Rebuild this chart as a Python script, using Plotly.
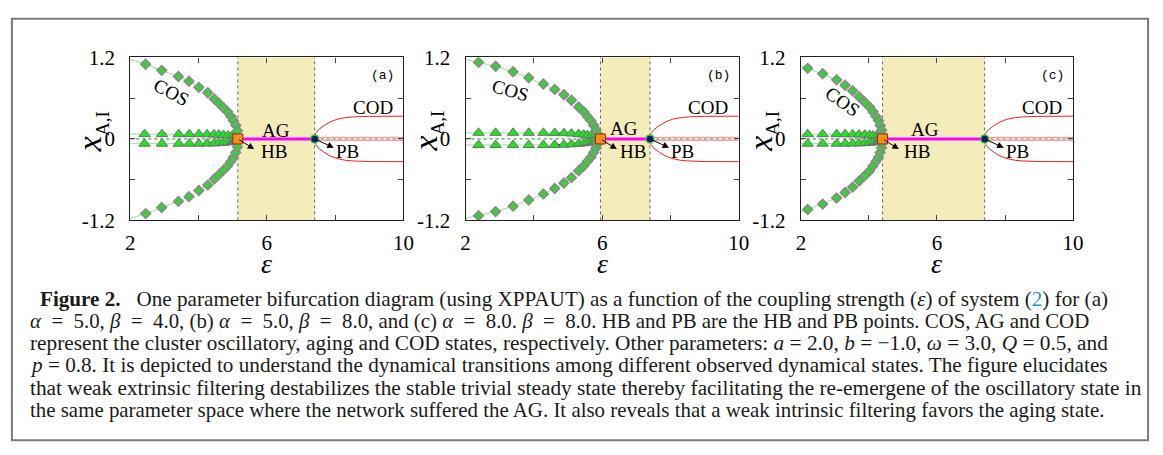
import plotly.graph_objects as go

W, H = 1163, 455

# ---------------- data ----------------
eps_start = 2.0
pb_eps = 7.4

# panel (a)
hb_a = 5.15
cos_start_a = 1.17
cos_eps_a = [2.45, 2.92, 3.41, 3.72, 4.01, 4.27, 4.46, 4.59, 4.73, 4.85, 4.95, 5.02, 5.09, 5.14]
cos_amp_a = [1.10, 1.01, 0.92, 0.85, 0.76, 0.68, 0.59, 0.53, 0.46, 0.40, 0.33, 0.27, 0.20, 0.12]
tri_eps_a = [2.42, 2.93, 3.42, 3.73, 4.01, 4.25, 4.45, 4.59, 4.73, 4.86, 4.97, 5.03, 5.07, 5.11]
tri_amp_a = [0.07, 0.07, 0.07, 0.07, 0.07, 0.068, 0.066, 0.062, 0.057, 0.05, 0.042, 0.035, 0.026, 0.016]
tri_line_a = 0.07

# panel (b)
hb_b = 5.95
cos_start_b = 1.17
cos_eps_b = [2.38, 2.88, 3.39, 3.85, 4.28, 4.61, 4.88, 5.10, 5.31, 5.46, 5.57, 5.67, 5.75, 5.82, 5.88]
cos_amp_b = [1.13, 1.07, 0.99, 0.90, 0.81, 0.73, 0.65, 0.57, 0.47, 0.40, 0.33, 0.27, 0.20, 0.135, 0.065]
tri_eps_b = [2.38, 2.88, 3.39, 3.85, 4.28, 4.61, 4.88, 5.10, 5.31, 5.46, 5.57, 5.67, 5.75, 5.82, 5.88]
tri_amp_b = [0.09, 0.09, 0.09, 0.09, 0.09, 0.088, 0.085, 0.08, 0.072, 0.064, 0.055, 0.045, 0.035, 0.024, 0.013]
tri_line_b = 0.09

# panel (c)
hb_c = 4.40
cos_start_c = 1.08
cos_eps_c = [2.20, 2.64, 3.05, 3.30, 3.52, 3.71, 3.88, 4.02, 4.12, 4.21, 4.28, 4.33, 4.37, 4.39]
cos_amp_c = [1.04, 0.96, 0.87, 0.79, 0.71, 0.62, 0.54, 0.47, 0.40, 0.33, 0.27, 0.20, 0.13, 0.06]
tri_eps_c = [2.20, 2.64, 3.05, 3.30, 3.52, 3.71, 3.88, 4.02, 4.12, 4.21, 4.28, 4.33, 4.37]
tri_amp_c = [0.07, 0.07, 0.07, 0.07, 0.068, 0.066, 0.062, 0.057, 0.05, 0.042, 0.033, 0.024, 0.014]
tri_line_c = 0.07

# COD branch (same in all panels)
cod_eps = [7.40, 7.43, 7.50, 7.58, 7.67, 7.85, 8.06, 8.30, 8.54, 9.00, 9.50, 10.0]
cod_amp = [0.00, 0.08, 0.13, 0.165, 0.195, 0.25, 0.29, 0.315, 0.325, 0.333, 0.335, 0.335]
cod_inner = 0.02

# label positions (data coords) per panel
panel_letters = ["(a)", "(b)", "(c)"]
cos_lab = [(3.22, 0.69, 28), (3.33, 0.72, 16), (3.22, 0.55, 35)]
ag_lab = [(6.27, 0.13), (6.65, 0.15), (5.65, 0.14)]
hb_lab = [(6.22, -0.18), (6.91, -0.18), (5.42, -0.19)]
pb_lab = (8.36, -0.18)
cod_lab = (9.1, 0.47)
letter_pos = (9.4, 0.94)

x_tickvals = [2, 4, 6, 8, 10]
x_ticktext = ["2", "", "6", "", "10"]
y_tickvals = [-1.2, -0.6, 0, 0.6, 1.2]
y_ticktext = ["-1.2", "", "0", "", "1.2"]

EQ = "\u2002=\u2002"
caption_lines = [
    "<b>Figure 2.</b>\u2002 One parameter bifurcation diagram (using XPPAUT) as a function of the coupling strength (<i>ε</i>) of system (<span style='color:#2a8fd4'>2</span>) for (a)",
    "<i>α</i>" + EQ + "5.0, <i>β</i>" + EQ + "4.0, (b) <i>α</i>" + EQ + "5.0, <i>β</i>" + EQ
    + "8.0, and (c) <i>α</i>" + EQ + "8.0. <i>β</i>" + EQ + "8.0. HB and PB are the HB and PB points. COS, AG and COD",
    "represent the cluster oscillatory, aging and COD states, respectively. Other parameters: <i>a</i> = 2.0, <i>b</i> = −1.0, <i>ω</i> = 3.0, <i>Q</i> = 0.5, and",
    "<i>p</i> = 0.8. It is depicted to understand the dynamical transitions among different observed dynamical states. The figure elucidates",
    "that weak extrinsic filtering destabilizes the stable trivial steady state thereby facilitating the re-emergene of the oscillatory state in",
    "the same parameter space where the network suffered the AG. It also reveals that a weak intrinsic filtering favors the aging state.",
]
caption_x = [33, 23, 23, 23, 23, 23]
caption_size = [21.15, 20.85, 21.3, 21.2, 21.3, 20.9]
caption_baselines = [309.5, 333, 356.5, 380, 403.5, 427]

panels = [
    dict(hb=hb_a, cs=cos_start_a, ce=cos_eps_a, ca=cos_amp_a, te=tri_eps_a, ta=tri_amp_a, tl=tri_line_a),
    dict(hb=hb_b, cs=cos_start_b, ce=cos_eps_b, ca=cos_amp_b, te=tri_eps_b, ta=tri_amp_b, tl=tri_line_b),
    dict(hb=hb_c, cs=cos_start_c, ce=cos_eps_c, ca=cos_amp_c, te=tri_eps_c, ta=tri_amp_c, tl=tri_line_c),
]

# ---------------- layout geometry (pixels) ----------------
px_left = [127, 467, 807]
px_right = [404, 744, 1083]
px_top, px_bot = 48, 220

SERIF = "Liberation Serif"
fig = go.Figure()

LG = "#93e693"
for i, p in enumerate(panels):
    xa = "x" if i == 0 else f"x{i+1}"
    ya = "y" if i == 0 else f"y{i+1}"
    hb = p["hb"]
    for s in (1, -1):
        fig.add_trace(go.Scatter(x=[eps_start] + p["ce"] + [hb],
                                 y=[s * p["cs"]] + [s * v for v in p["ca"]] + [0],
                                 mode="lines", line=dict(color=LG, width=1),
                                 xaxis=xa, yaxis=ya, hoverinfo="skip", showlegend=False))
        fig.add_trace(go.Scatter(x=[eps_start, p["te"][5], hb], y=[s * p["tl"], s * p["ta"][5], 0],
                                 mode="lines", line=dict(color=LG, width=1),
                                 xaxis=xa, yaxis=ya, hoverinfo="skip", showlegend=False))
        fig.add_trace(go.Scatter(x=p["te"][5:] + [hb], y=[s * v for v in p["ta"][5:]] + [0],
                                 mode="lines", line=dict(color="#111111", width=1),
                                 xaxis=xa, yaxis=ya, hoverinfo="skip", showlegend=False))
    fig.add_trace(go.Scatter(x=[eps_start, hb], y=[0, 0], mode="lines",
                             line=dict(color="#2e7d2e", width=1, dash="dot"),
                             xaxis=xa, yaxis=ya, hoverinfo="skip", showlegend=False))
    for s in (1, -1):
        fig.add_trace(go.Scatter(x=p["te"], y=[s * v for v in p["ta"]], mode="markers",
                                 marker=dict(symbol="triangle-up", size=10, color="#1ee61e",
                                             line=dict(color="#6e6e6e", width=1)),
                                 xaxis=xa, yaxis=ya, hoverinfo="skip", showlegend=False))
    for s in (1, -1):
        fig.add_trace(go.Scatter(x=p["ce"], y=[s * v for v in p["ca"]], mode="markers",
                                 marker=dict(symbol="diamond", size=7.5, color="#3ccc3c",
                                             line=dict(color="#8a8a8a", width=1.5)),
                                 xaxis=xa, yaxis=ya, hoverinfo="skip", showlegend=False))
    fig.add_trace(go.Scatter(x=[hb, pb_eps], y=[0, 0], mode="lines",
                             line=dict(color="#ff00ff", width=3),
                             xaxis=xa, yaxis=ya, hoverinfo="skip", showlegend=False))
    for s in (1, -1):
        fig.add_trace(go.Scatter(x=cod_eps, y=[s * v for v in cod_amp], mode="lines",
                                 line=dict(color="#ee2222", width=1),
                                 xaxis=xa, yaxis=ya, hoverinfo="skip", showlegend=False))
        fig.add_trace(go.Scatter(x=[pb_eps, 10], y=[s * cod_inner, s * cod_inner], mode="lines",
                                 line=dict(color="#f4a3a3", width=1.5),
                                 xaxis=xa, yaxis=ya, hoverinfo="skip", showlegend=False))
    fig.add_trace(go.Scatter(x=[pb_eps, 10], y=[0, 0], mode="lines",
                             line=dict(color="#888888", width=1, dash="dot"),
                             xaxis=xa, yaxis=ya, hoverinfo="skip", showlegend=False))
    fig.add_trace(go.Scatter(x=[hb], y=[0], mode="markers",
                             marker=dict(symbol="square", size=10, color="#ff8a1c",
                                         line=dict(color="#7a3d00", width=1)),
                             xaxis=xa, yaxis=ya, hoverinfo="skip", showlegend=False))
    fig.add_trace(go.Scatter(x=[pb_eps], y=[0], mode="markers",
                             marker=dict(symbol="circle", size=8, color="#14147a",
                                         line=dict(color="#33cc33", width=1.5)),
                             xaxis=xa, yaxis=ya, hoverinfo="skip", showlegend=False))

shapes = []
annotations = []
layout_axes = {}
for i, p in enumerate(panels):
    xk = "xaxis" if i == 0 else f"xaxis{i+1}"
    yk = "yaxis" if i == 0 else f"yaxis{i+1}"
    xr = "x" if i == 0 else f"x{i+1}"
    yr = "y" if i == 0 else f"y{i+1}"
    common = dict(showline=True, mirror="ticks", linecolor="#222222", linewidth=1.2,
                  ticks="inside", ticklen=5, tickcolor="#444444", showgrid=False,
                  zeroline=False, tickfont=dict(family=SERIF, size=21, color="black"))
    layout_axes[xk] = dict(domain=[px_left[i] / W, px_right[i] / W], range=[2, 10],
                           anchor=yr, tickvals=x_tickvals, ticktext=x_ticktext,
                           ticklabelstandoff=3, **common)
    layout_axes[yk] = dict(domain=[1 - px_bot / H, 1 - px_top / H], range=[-1.2, 1.2],
                           anchor=xr, tickvals=y_tickvals, ticktext=y_ticktext,
                           ticklabelstandoff=10, **common)
    hb = p["hb"]
    shapes.append(dict(type="rect", xref=xr, yref=f"{yr} domain", x0=hb, x1=pb_eps, y0=0, y1=1,
                       fillcolor="#f4ecba", line=dict(width=0), layer="below"))
    for xv in (hb, pb_eps):
        shapes.append(dict(type="line", xref=xr, yref=f"{yr} domain", x0=xv, x1=xv, y0=0, y1=1,
                           line=dict(color="#666666", width=1, dash="dot"), layer="below"))
    lab_font = dict(family=SERIF, size=19, color="black")
    annotations += [
        dict(xref=xr, yref=yr, x=cos_lab[i][0], y=cos_lab[i][1], text="COS", showarrow=False,
             font=lab_font, textangle=cos_lab[i][2], xanchor="center", yanchor="middle"),
        dict(xref=xr, yref=yr, x=ag_lab[i][0], y=ag_lab[i][1], text="AG", showarrow=False,
             font=lab_font, xanchor="center", yanchor="middle"),
        dict(xref=xr, yref=yr, x=cod_lab[0], y=cod_lab[1], text="COD", showarrow=False,
             font=lab_font, xanchor="center", yanchor="middle"),
        dict(xref=xr, yref=yr, x=hb_lab[i][0], y=hb_lab[i][1], text="HB", showarrow=False,
             font=lab_font, xanchor="center", yanchor="middle"),
        dict(xref=xr, yref=yr, x=pb_lab[0], y=pb_lab[1], text="PB", showarrow=False,
             font=lab_font, xanchor="center", yanchor="middle"),
        dict(xref=xr, yref=yr, x=letter_pos[0], y=letter_pos[1], text=panel_letters[i],
             showarrow=False, xanchor="center", yanchor="middle",
             font=dict(family="Liberation Mono", size=13, color="black")),
        dict(xref=xr, yref=yr, x=hb + 0.48, y=-0.15, ax=hb, ay=0, axref=xr, ayref=yr,
             text="", showarrow=True, arrowhead=2, arrowsize=1.3, arrowwidth=1, arrowcolor="black"),
        dict(xref=xr, yref=yr, x=7.96, y=-0.13, ax=pb_eps, ay=0, axref=xr, ayref=yr,
             text="", showarrow=True, arrowhead=2, arrowsize=1.3, arrowwidth=1, arrowcolor="black"),
        dict(xref="paper", yref="paper", x=(px_left[i] - 39) / W, y=1 - 126 / H,
             xanchor="center", yanchor="middle",
             text="<i>x</i><sub><span style='font-size:19px'>A,I</span></sub>", showarrow=False,
             textangle=-90, font=dict(family=SERIF, size=34, color="black")),
        dict(xref="paper", yref="paper", x=(px_left[i] + px_right[i]) / 2 / W, y=1 - 266 / H,
             xanchor="center", yanchor="middle",
             text="<i>ε</i>", showarrow=False, font=dict(family=SERIF, size=28, color="black")),
    ]

for text, xpix, fs, base in zip(caption_lines, caption_x, caption_size, caption_baselines):
    annotations.append(dict(xref="paper", yref="paper", x=xpix / W, y=1 - (base - 7) / H,
                            xanchor="left", yanchor="middle", text=text, showarrow=False,
                            font=dict(family=SERIF, size=fs, color="#1a1a1a")))

shapes.append(dict(type="rect", xref="paper", yref="paper", x0=7 / W, x1=1159 / W,
                   y0=1 - 452 / H, y1=1 - 7 / H, line=dict(color="#7a7a7a", width=2)))

fig.update_layout(width=W, height=H, margin=dict(l=0, r=0, t=0, b=0),
                  paper_bgcolor="white", plot_bgcolor="white",
                  shapes=shapes, annotations=annotations, showlegend=False, **layout_axes)

fig.write_html("out.html", config={"displayModeBar": False},
               post_script="document.body.style.margin='0';document.body.style.overflow='hidden';")
